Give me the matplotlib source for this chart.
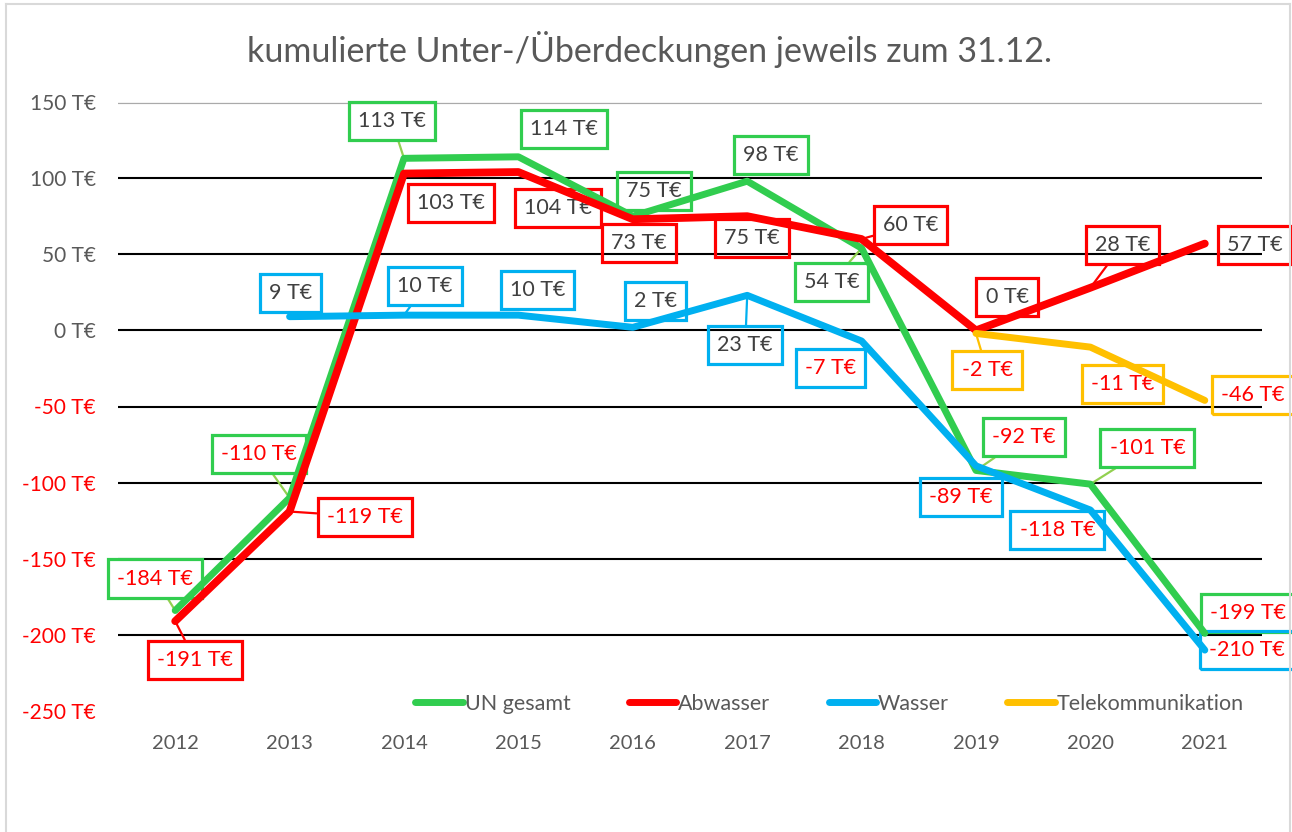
import numpy as np
import matplotlib
matplotlib.use('Agg')
import matplotlib.pyplot as plt
from matplotlib.lines import Line2D

plt.rcParams['font.family'] = ['Lato', 'DejaVu Sans']

# data
years = ['2012', '2013', '2014', '2015', '2016', '2017', '2018', '2019', '2020', '2021']
un_gesamt = [-184, -110, 113, 114, 75, 98, 54, -92, -101, -199]
abwasser = [-191, -119, 103, 104, 73, 75, 60, 0, 28, 57]
wasser = [np.nan, 9, 10, 10, 2, 23, -7, -89, -118, -210]
telekom = [np.nan] * 7 + [-2, -11, -46]

# label offsets in pixels (dx, dy) and leader flag
off_un = [(-20, 32), (-31, 44), (-12, 37), (46, 28), (21, 25), (24, 26), (-30, -34), (48, 33), (57, 36), (43, 20)]
lead_un = [1, 1, 1, 0, 0, 0, 1, 1, 1, 0]
off_ab = [(20, -39), (75, -5), (47, -29), (40, -36), (6, -24), (5, -22), (49, 14), (31, 33), (32, 43), (50, -1)]
lead_ab = [1, 1, 0, 0, 0, 0, 1, 0, 1, 0]
off_wa = [None, (1, 24), (21, 29), (19, 25), (23, 26), (-2, -50), (-31, -27), (-15, -31), (-33, -20), (42, 0)]
lead_wa = [0, 0, 1, 0, 0, 1, 0, 0, 0, 0]
off_te = [None] * 7 + [(11, -37), (32, -37), (48, 5)]
lead_te = [0] * 7 + [1, 0, 0]

GREEN = '#31CD4F'
RED = '#FF0000'
BLUE = '#00B0F0'
YELLOW = '#FFC000'
GREY = '#595959'

fig = plt.figure(figsize=(12.92, 8.32), dpi=100)
ax = fig.add_axes([118 / 1292, 1 - 711 / 832, 1144 / 1292, 609 / 832])

x = np.arange(len(years))
series = [
    ('UN gesamt', un_gesamt, GREEN, '#92D050', 5.0, off_un, lead_un),
    ('Abwasser', abwasser, RED, RED, 5.6, off_ab, lead_ab),
    ('Wasser', wasser, BLUE, BLUE, 5.0, off_wa, lead_wa),
    ('Telekommunikation', telekom, YELLOW, YELLOW, 5.0, off_te, lead_te),
]

# gridlines
for v in [-200, -150, -100, -50, 0, 50, 100]:
    ax.axhline(v, color='black', lw=1.5, zorder=1)
ax.axhline(150, color='#A6A6A6', lw=3.0, zorder=1)
ax.axhline(150, color='#F2F2F2', lw=0.8, zorder=1)

for name, vals, col, lcol, lw, offs, leads in series:
    ax.plot(x, vals, color=col, lw=lw, label=name, zorder=3,
            solid_capstyle='round', solid_joinstyle='round')
    for i, v in enumerate(vals):
        if np.isnan(v):
            continue
        dx, dy = offs[i]
        tcol = RED if v < 0 else '#404040'
        ap = None
        if leads[i]:
            ap = dict(arrowstyle='-', color=lcol, lw=1.6, shrinkA=0, shrinkB=0)
        ax.annotate('{} T€'.format(int(v)), (x[i], v), xytext=(dx, dy),
                    textcoords='offset pixels', ha='center', va='center',
                    fontsize=15.5, color=tcol, zorder=2,
                    bbox=dict(boxstyle='square,pad=0.42', fc='none', ec=col, lw=2.3),
                    arrowprops=ap)

ax.set_xlim(-0.5, len(years) - 0.5)
ax.set_ylim(-250, 150)
ax.set_yticks(np.arange(-250, 151, 50))
ax.set_yticklabels(['{} T€'.format(v) for v in range(-250, 151, 50)])
for t, v in zip(ax.get_yticklabels(), range(-250, 151, 50)):
    t.set_color(RED if v < 0 else GREY)
ax.set_xticks(x)
ax.set_xticklabels(years, color=GREY)
ax.tick_params(axis='y', length=0, labelsize=15, pad=16)
ax.tick_params(axis='x', length=0, labelsize=14.5, pad=17)
for s in ax.spines.values():
    s.set_visible(False)

handles = [Line2D([], [], color=c, lw=5, solid_capstyle='round') for _, _, c, _, _, _, _ in series]
leg = ax.legend(handles, [s[0] for s in series], loc='center', bbox_to_anchor=(0.622, 0.012),
                ncol=4, frameon=False, fontsize=15.5, handlelength=2.2, handletextpad=0.1,
                columnspacing=2.7)
for t in leg.get_texts():
    t.set_color(GREY)

fig.text(0.503, 1 - 50 / 832, 'kumulierte Unter-/Überdeckungen jeweils zum 31.12.',
         ha='center', va='center', fontsize=24.5, color=GREY)

# chart frame
fig.add_artist(Line2D([6 / 1292, 6 / 1292], [0, 1 - 4 / 832], color='#D9D9D9', lw=1.5))
fig.add_artist(Line2D([6 / 1292, 1290 / 1292], [1 - 4 / 832, 1 - 4 / 832], color='#D9D9D9', lw=1.5))
fig.add_artist(Line2D([1290 / 1292, 1290 / 1292], [0, 1 - 4 / 832], color='#D9D9D9', lw=1.5))

fig.savefig('out.png', dpi=100)
